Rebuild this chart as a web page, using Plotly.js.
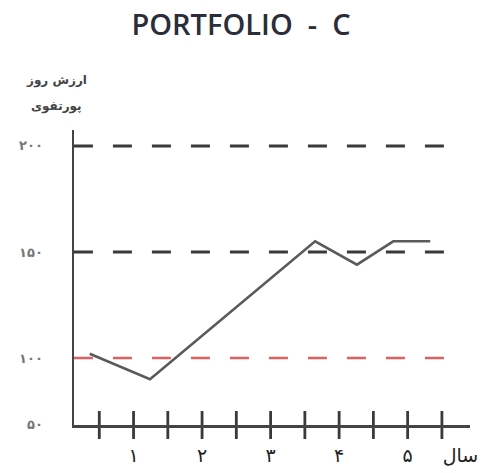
<!DOCTYPE html>
<html><head><meta charset="utf-8">
<script src="https://cdn.plot.ly/plotly-3.0.1.min.js"></script>
<style>body{margin:0;background:#fff}#chart{width:490px;height:473px}</style>
</head><body><div id="chart"></div>
<script>
// Data
const years = [0.36, 1.24, 3.65, 4.26, 4.79, 5.33];
const values = [102, 90, 155, 144, 155, 155];
const refLevels = [200, 150];
const baseLevel = 100;
const refSpan = [0.13, 5.58];
const xTickMarks = [0.5, 1, 1.5, 2, 2.5, 3, 3.5, 4, 4.5, 5, 5.5];
const xLabelVals = [1, 2, 3, 4, 5, 5.77];
const xLabelText = ['۱', '۲', '۳', '۴', '۵', 'سال'];
const yLabelVals = [68.6, 100, 150, 200];
const yLabelText = ['۵۰', '۱۰۰', '۱۵۰', '۲۰۰'];
const yTitleLines = ['ارزش روز', 'پورتفوی'];
const chartTitle = 'PORTFOLIO  -  C';

const xRange = [0.131, 5.91];
const yRange = [68.4, 207.5];

const traces = [];
refLevels.forEach(lv => traces.push({
  x: refSpan, y: [lv, lv], mode: 'lines', hoverinfo: 'skip',
  line: {color: '#3a3a3a', width: 3, dash: '19px,20px'}
}));
traces.push({
  x: refSpan, y: [baseLevel, baseLevel], mode: 'lines', hoverinfo: 'skip',
  line: {color: '#e06060', width: 2.5, dash: '19px,20px'}
});
traces.push({
  x: years, y: values, mode: 'lines',
  line: {color: '#5a5a5a', width: 2.5}
});
traces.push({
  x: xTickMarks, y: xTickMarks.map(() => yRange[0]), mode: 'markers',
  cliponaxis: false, hoverinfo: 'skip',
  marker: {symbol: 'line-ns-open', size: 20, color: '#3a3a3a', line: {color: '#3a3a3a', width: 2.8}}
});

const PW = 490, PH = 473, L = 74, R = 20, T = 130, B = 48;
const plotH = PH - T - B;
const annY = px => 1 + (T - px) / plotH;

const layout = {
  width: PW, height: PH,
  margin: {l: L, r: R, t: T, b: B},
  paper_bgcolor: '#fff', plot_bgcolor: '#fff',
  showlegend: false,
  title: {
    text: chartTitle, x: 241 / PW, xanchor: 'center', xref: 'container',
    y: 1 - 25 / PH, yanchor: 'middle', yref: 'container',
    font: {family: 'Open Sans', size: 29, weight: 600, color: '#2b2d3a'}
  },
  xaxis: {
    range: xRange, showgrid: false, zeroline: false,
    showline: true, linecolor: '#444', linewidth: 2.5,
    ticks: '', tickmode: 'array', tickvals: xLabelVals, ticktext: xLabelText,
    ticklabelstandoff: 12,
    tickfont: {family: 'DejaVu Sans', size: 19, color: '#222'}
  },
  yaxis: {
    range: yRange, showgrid: false, zeroline: false,
    showline: true, linecolor: '#444', linewidth: 2.5,
    ticks: '', tickmode: 'array', tickvals: yLabelVals, ticktext: yLabelText,
    ticklabelstandoff: 26,
    tickfont: {family: 'DejaVu Sans', size: 13, weight: 'bold', color: '#777'}
  },
  annotations: yTitleLines.map((t, i) => ({
    text: t, xref: 'paper', yref: 'paper', x: (56 - L) / (PW - L - R),
    y: annY([81, 107][i]), xanchor: 'center', yanchor: 'middle', showarrow: false,
    font: {family: 'DejaVu Sans', size: 12, weight: 'bold', color: '#444'}
  }))
};

Plotly.newPlot('chart', traces, layout, {displayModeBar: false, staticPlot: true});
</script></body></html>
